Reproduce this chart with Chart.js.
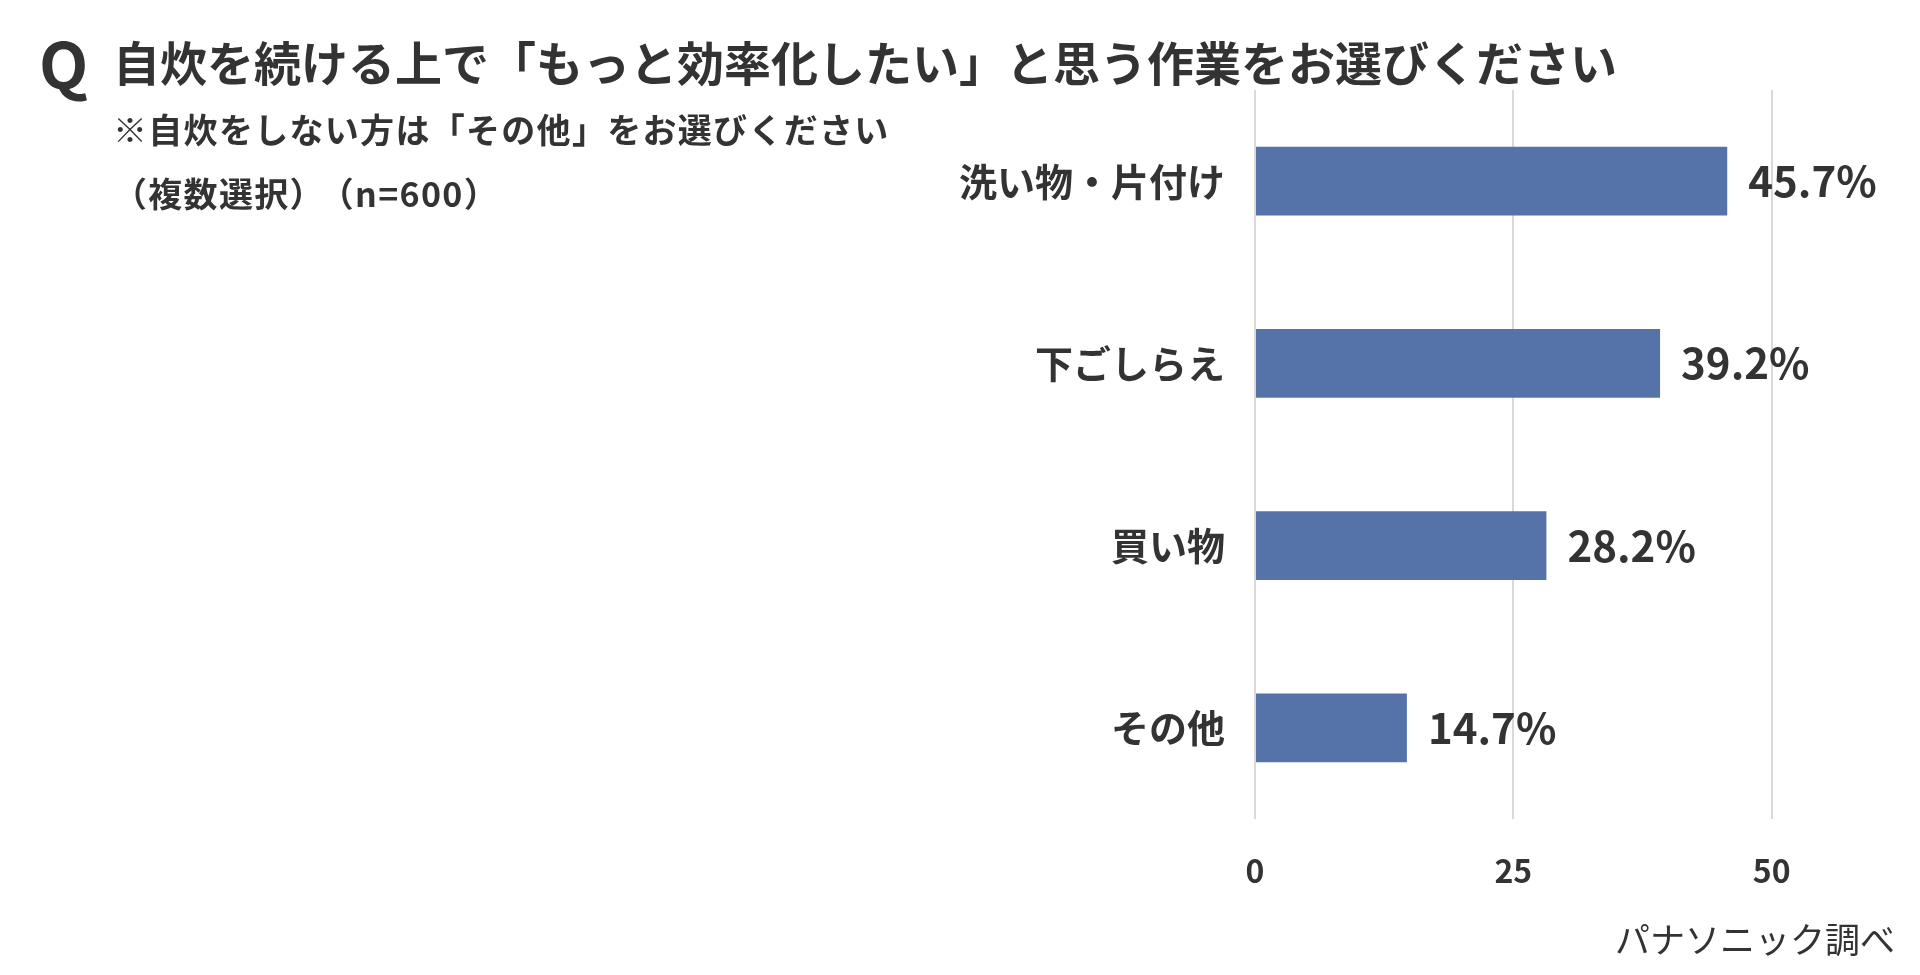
<!DOCTYPE html>
<html lang="ja">
<head>
<meta charset="utf-8">
<title>自炊を続ける上で「もっと効率化したい」と思う作業</title>
<script src="https://cdn.jsdelivr.net/npm/chart.js@4/dist/chart.umd.min.js"></script>
<style>
    html, body { margin: 0; padding: 0; background: #fff; }
    body { width: 1920px; height: 975px; position: relative; overflow: hidden;
           font-family: "Noto Sans CJK JP", "Noto Sans", sans-serif; color: #333; }
    #chart { position: absolute; left: 0; top: 0; }
    .txt { position: absolute; white-space: nowrap; }
    #q { left: 39px; top: 29px; font-size: 64px; line-height: 64px; font-weight: 700; }
    #title { left: 113px; top: 37px; font-size: 47px; line-height: 47px; font-weight: 700; }
    #sub1 { left: 113px; top: 112px; font-size: 34px; line-height: 34px; font-weight: 700; letter-spacing: 1.3px; }
    #sub2 { left: 113px; top: 176px; font-size: 34px; line-height: 34px; font-weight: 700; letter-spacing: 1.3px; }
    #sub2 .gap { margin-left: 12px; }
    #source { right: 25px; top: 920px; font-size: 35px; line-height: 35px; font-weight: 400; }
</style>
</head>
<body>
<canvas id="chart" width="1920" height="975"></canvas>
<div class="txt" id="q">Q</div>
<div class="txt" id="title">自炊を続ける上で「もっと効率化したい」と思う作業をお選びください</div>
<div class="txt" id="sub1">※自炊をしない方は「その他」をお選びください</div>
<div class="txt" id="sub2">（複数選択）<span class="gap">（n=600）</span></div>
<div class="txt" id="source">パナソニック調べ</div>
<script>
        const categories = ['洗い物・片付け', '下ごしらえ', '買い物', 'その他'];
        const values = [45.7, 39.2, 28.2, 14.7];
        const tickValues = [0, 25, 50];

        const textColor = '#333333';
        const barColor = '#5673a9';
        const fontFamily = '"Noto Sans CJK JP", "Noto Sans", sans-serif';

        // percent labels at the end of each bar
        const valueLabels = {
            id: 'valueLabels',
            afterDatasetsDraw(chart) {
                const ctx = chart.ctx;
                const meta = chart.getDatasetMeta(0);
                ctx.save();
                ctx.font = `700 42px ${fontFamily}`;
                ctx.fillStyle = textColor;
                ctx.textAlign = 'left';
                ctx.textBaseline = 'middle';
                meta.data.forEach((bar, i) => {
                    ctx.fillText(values[i].toFixed(1) + '%', bar.x + 21, bar.y);
                });
                ctx.restore();
            }
        };

        new Chart(document.getElementById('chart'), {
            type: 'bar',
            data: {
                labels: categories,
                datasets: [{
                    data: values,
                    backgroundColor: barColor,
                    borderWidth: 0,
                    categoryPercentage: 1,
                    barPercentage: 0.378
                }]
            },
            options: {
                indexAxis: 'y',
                responsive: false,
                devicePixelRatio: 1,
                animation: false,
                layout: { padding: { top: 90, right: 45, left: 0, bottom: 0 } },
                plugins: {
                    legend: { display: false },
                    tooltip: { enabled: false }
                },
                scales: {
                    x: {
                        min: 0,
                        max: 60,
                        ticks: {
                            stepSize: 25,
                            color: textColor,
                            font: { family: fontFamily, size: 32, weight: '700' },
                            padding: 33
                        },
                        afterBuildTicks: scale => {
                            scale.ticks = scale.ticks.filter(t => tickValues.includes(t.value));
                        },
                        afterFit: scale => { scale.height = 156; },
                        grid: { color: '#d9d9d9', lineWidth: 2, drawTicks: false },
                        border: { display: false }
                    },
                    y: {
                        ticks: {
                            color: textColor,
                            font: { family: fontFamily, size: 38, weight: '700' },
                            padding: 30
                        },
                        afterFit: scale => { scale.width = 1255; },
                        grid: { display: false, drawTicks: false },
                        border: { display: false }
                    }
                }
            },
            plugins: [valueLabels]
        });
</script>
</body>
</html>
